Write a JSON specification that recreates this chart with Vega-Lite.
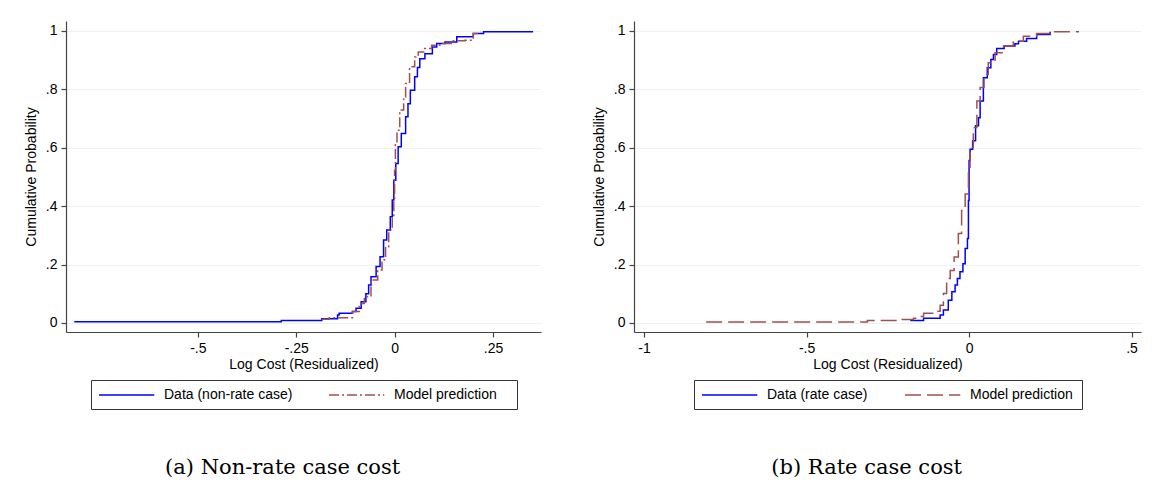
{
  "$schema": "https://vega.github.io/schema/vega-lite/v6.json",
  "padding": {"left": 24, "top": 21, "right": 5, "bottom": 5},
  "background": "white",
  "datasets": {
    "left": [
      {"x": -0.814, "p": 0.004, "series": "Data (non-rate case)"},
      {"x": -0.288, "p": 0.008, "series": "Data (non-rate case)"},
      {"x": -0.185, "p": 0.014, "series": "Data (non-rate case)"},
      {"x": -0.145, "p": 0.027, "series": "Data (non-rate case)"},
      {"x": -0.141, "p": 0.033, "series": "Data (non-rate case)"},
      {"x": -0.107, "p": 0.039, "series": "Data (non-rate case)"},
      {"x": -0.098, "p": 0.05, "series": "Data (non-rate case)"},
      {"x": -0.085, "p": 0.073, "series": "Data (non-rate case)"},
      {"x": -0.073, "p": 0.1, "series": "Data (non-rate case)"},
      {"x": -0.066, "p": 0.13, "series": "Data (non-rate case)"},
      {"x": -0.06, "p": 0.158, "series": "Data (non-rate case)"},
      {"x": -0.047, "p": 0.193, "series": "Data (non-rate case)"},
      {"x": -0.037, "p": 0.227, "series": "Data (non-rate case)"},
      {"x": -0.028, "p": 0.284, "series": "Data (non-rate case)"},
      {"x": -0.02, "p": 0.318, "series": "Data (non-rate case)"},
      {"x": -0.011, "p": 0.364, "series": "Data (non-rate case)"},
      {"x": -0.006, "p": 0.421, "series": "Data (non-rate case)"},
      {"x": -0.002, "p": 0.489, "series": "Data (non-rate case)"},
      {"x": 0.003, "p": 0.546, "series": "Data (non-rate case)"},
      {"x": 0.009, "p": 0.603, "series": "Data (non-rate case)"},
      {"x": 0.017, "p": 0.649, "series": "Data (non-rate case)"},
      {"x": 0.028, "p": 0.706, "series": "Data (non-rate case)"},
      {"x": 0.034, "p": 0.751, "series": "Data (non-rate case)"},
      {"x": 0.04, "p": 0.797, "series": "Data (non-rate case)"},
      {"x": 0.051, "p": 0.843, "series": "Data (non-rate case)"},
      {"x": 0.058, "p": 0.875, "series": "Data (non-rate case)"},
      {"x": 0.064, "p": 0.905, "series": "Data (non-rate case)"},
      {"x": 0.077, "p": 0.922, "series": "Data (non-rate case)"},
      {"x": 0.096, "p": 0.945, "series": "Data (non-rate case)"},
      {"x": 0.107, "p": 0.957, "series": "Data (non-rate case)"},
      {"x": 0.128, "p": 0.962, "series": "Data (non-rate case)"},
      {"x": 0.158, "p": 0.98, "series": "Data (non-rate case)"},
      {"x": 0.2, "p": 0.991, "series": "Data (non-rate case)"},
      {"x": 0.226, "p": 0.997, "series": "Data (non-rate case)"},
      {"x": 0.35, "p": 1.0, "series": "Data (non-rate case)"},
      {"x": -0.185, "p": 0.0125, "series": "Model prediction"},
      {"x": -0.166, "p": 0.018, "series": "Model prediction"},
      {"x": -0.115, "p": 0.018, "series": "Model prediction"},
      {"x": -0.107, "p": 0.039, "series": "Model prediction"},
      {"x": -0.09, "p": 0.067, "series": "Model prediction"},
      {"x": -0.077, "p": 0.09, "series": "Model prediction"},
      {"x": -0.06, "p": 0.147, "series": "Model prediction"},
      {"x": -0.043, "p": 0.181, "series": "Model prediction"},
      {"x": -0.032, "p": 0.216, "series": "Model prediction"},
      {"x": -0.023, "p": 0.261, "series": "Model prediction"},
      {"x": -0.015, "p": 0.318, "series": "Model prediction"},
      {"x": -0.006, "p": 0.364, "series": "Model prediction"},
      {"x": -0.002, "p": 0.421, "series": "Model prediction"},
      {"x": 0.0, "p": 0.523, "series": "Model prediction"},
      {"x": 0.002, "p": 0.615, "series": "Model prediction"},
      {"x": 0.006, "p": 0.66, "series": "Model prediction"},
      {"x": 0.013, "p": 0.729, "series": "Model prediction"},
      {"x": 0.023, "p": 0.774, "series": "Model prediction"},
      {"x": 0.028, "p": 0.82, "series": "Model prediction"},
      {"x": 0.038, "p": 0.877, "series": "Model prediction"},
      {"x": 0.051, "p": 0.911, "series": "Model prediction"},
      {"x": 0.06, "p": 0.928, "series": "Model prediction"},
      {"x": 0.074, "p": 0.94, "series": "Model prediction"},
      {"x": 0.094, "p": 0.951, "series": "Model prediction"},
      {"x": 0.115, "p": 0.957, "series": "Model prediction"},
      {"x": 0.149, "p": 0.966, "series": "Model prediction"},
      {"x": 0.179, "p": 0.968, "series": "Model prediction"},
      {"x": 0.2, "p": 0.991, "series": "Model prediction"},
      {"x": 0.213, "p": 1.0, "series": "Model prediction"}
    ],
    "right": [
      {"x": -0.181, "p": 0.008, "series": "Data (rate case)"},
      {"x": -0.14, "p": 0.016, "series": "Data (rate case)"},
      {"x": -0.089, "p": 0.027, "series": "Data (rate case)"},
      {"x": -0.079, "p": 0.044, "series": "Data (rate case)"},
      {"x": -0.064, "p": 0.078, "series": "Data (rate case)"},
      {"x": -0.053, "p": 0.107, "series": "Data (rate case)"},
      {"x": -0.043, "p": 0.13, "series": "Data (rate case)"},
      {"x": -0.036, "p": 0.152, "series": "Data (rate case)"},
      {"x": -0.028, "p": 0.175, "series": "Data (rate case)"},
      {"x": -0.019, "p": 0.203, "series": "Data (rate case)"},
      {"x": -0.012, "p": 0.255, "series": "Data (rate case)"},
      {"x": -0.005, "p": 0.289, "series": "Data (rate case)"},
      {"x": -0.002, "p": 0.419, "series": "Data (rate case)"},
      {"x": 0.0, "p": 0.556, "series": "Data (rate case)"},
      {"x": 0.003, "p": 0.595, "series": "Data (rate case)"},
      {"x": 0.011, "p": 0.624, "series": "Data (rate case)"},
      {"x": 0.02, "p": 0.675, "series": "Data (rate case)"},
      {"x": 0.029, "p": 0.703, "series": "Data (rate case)"},
      {"x": 0.034, "p": 0.76, "series": "Data (rate case)"},
      {"x": 0.044, "p": 0.84, "series": "Data (rate case)"},
      {"x": 0.056, "p": 0.874, "series": "Data (rate case)"},
      {"x": 0.067, "p": 0.902, "series": "Data (rate case)"},
      {"x": 0.075, "p": 0.919, "series": "Data (rate case)"},
      {"x": 0.085, "p": 0.94, "series": "Data (rate case)"},
      {"x": 0.108, "p": 0.948, "series": "Data (rate case)"},
      {"x": 0.141, "p": 0.956, "series": "Data (rate case)"},
      {"x": 0.152, "p": 0.965, "series": "Data (rate case)"},
      {"x": 0.177, "p": 0.974, "series": "Data (rate case)"},
      {"x": 0.208, "p": 0.988, "series": "Data (rate case)"},
      {"x": 0.249, "p": 0.997, "series": "Data (rate case)"},
      {"x": -0.809, "p": 0.003, "series": "Model prediction"},
      {"x": -0.313, "p": 0.008, "series": "Model prediction"},
      {"x": -0.21, "p": 0.012, "series": "Model prediction"},
      {"x": -0.171, "p": 0.016, "series": "Model prediction"},
      {"x": -0.16, "p": 0.022, "series": "Model prediction"},
      {"x": -0.14, "p": 0.033, "series": "Model prediction"},
      {"x": -0.099, "p": 0.04, "series": "Model prediction"},
      {"x": -0.089, "p": 0.061, "series": "Model prediction"},
      {"x": -0.079, "p": 0.101, "series": "Model prediction"},
      {"x": -0.069, "p": 0.152, "series": "Model prediction"},
      {"x": -0.058, "p": 0.18, "series": "Model prediction"},
      {"x": -0.046, "p": 0.226, "series": "Model prediction"},
      {"x": -0.033, "p": 0.306, "series": "Model prediction"},
      {"x": -0.023, "p": 0.385, "series": "Model prediction"},
      {"x": -0.012, "p": 0.442, "series": "Model prediction"},
      {"x": -0.002, "p": 0.533, "series": "Model prediction"},
      {"x": 0.003, "p": 0.601, "series": "Model prediction"},
      {"x": 0.013, "p": 0.669, "series": "Model prediction"},
      {"x": 0.024, "p": 0.76, "series": "Model prediction"},
      {"x": 0.034, "p": 0.806, "series": "Model prediction"},
      {"x": 0.046, "p": 0.851, "series": "Model prediction"},
      {"x": 0.059, "p": 0.891, "series": "Model prediction"},
      {"x": 0.08, "p": 0.925, "series": "Model prediction"},
      {"x": 0.106, "p": 0.948, "series": "Model prediction"},
      {"x": 0.136, "p": 0.965, "series": "Model prediction"},
      {"x": 0.167, "p": 0.982, "series": "Model prediction"},
      {"x": 0.208, "p": 0.991, "series": "Model prediction"},
      {"x": 0.249, "p": 0.997, "series": "Model prediction"},
      {"x": 0.336, "p": 1.0, "series": "Model prediction"}
    ]
  },
  "spacing": 51,
  "hconcat": [
    {
      "width": 475,
      "height": 311,
      "data": {"name": "left"},
      "title": {"text": "(a) Non-rate case cost"},
      "mark": {"type": "line", "interpolate": "step-after", "strokeWidth": 1.5},
      "encoding": {
        "x": {"field": "x", "type": "quantitative",
          "scale": {"domain": [-0.835, 0.372], "nice": false, "zero": false},
          "axis": {"title": "Log Cost (Residualized)", "values": [-0.5, -0.25, 0, 0.25], "labelExpr": "replace(toString(datum.value), '0.', '.')", "grid": false}},
        "y": {"field": "p", "type": "quantitative",
          "scale": {"domain": [-0.031, 1.034], "nice": false, "zero": false},
          "axis": {"title": "Cumulative Probability", "values": [0, 0.2, 0.4, 0.6, 0.8, 1], "labelExpr": "replace(toString(datum.value), '0.', '.')", "grid": true}},
        "color": {"field": "series", "type": "nominal",
          "scale": {"domain": ["Data (non-rate case)", "Model prediction"], "range": ["#0000ff", "#a05050"]},
          "legend": {"title": "\u00a0", "titleOrient": "right", "titlePadding": 13, "columnPadding": 33}},
        "strokeDash": {"field": "series", "type": "nominal",
          "scale": {"domain": ["Data (non-rate case)", "Model prediction"], "range": [[1, 0], [10, 3, 2, 3]]},
          "legend": {"title": "\u00a0", "titleOrient": "right", "titlePadding": 13, "columnPadding": 33}}
      }
    },
    {
      "width": 507,
      "height": 311,
      "data": {"name": "right"},
      "title": {"text": "(b) Rate case cost"},
      "mark": {"type": "line", "interpolate": "step-after", "strokeWidth": 1.5},
      "encoding": {
        "x": {"field": "x", "type": "quantitative",
          "scale": {"domain": [-1.031, 0.529], "nice": false, "zero": false},
          "axis": {"title": "Log Cost (Residualized)", "values": [-1, -0.5, 0, 0.5], "labelExpr": "replace(toString(datum.value), '0.', '.')", "grid": false}},
        "y": {"field": "p", "type": "quantitative",
          "scale": {"domain": [-0.031, 1.034], "nice": false, "zero": false},
          "axis": {"title": "Cumulative Probability", "values": [0, 0.2, 0.4, 0.6, 0.8, 1], "labelExpr": "replace(toString(datum.value), '0.', '.')", "grid": true}},
        "color": {"field": "series", "type": "nominal",
          "scale": {"domain": ["Data (rate case)", "Model prediction"], "range": ["#0000ff", "#a05050"]},
          "legend": {"title": "\u00a0", "titleOrient": "right", "titlePadding": 2, "columnPadding": 34}},
        "strokeDash": {"field": "series", "type": "nominal",
          "scale": {"domain": ["Data (rate case)", "Model prediction"], "range": [[1, 0], [16, 6]]},
          "legend": {"title": "\u00a0", "titleOrient": "right", "titlePadding": 2, "columnPadding": 34}}
      }
    }
  ],
  "resolve": {"scale": {"color": "independent", "strokeDash": "independent", "x": "independent", "y": "independent"}, "legend": {"color": "independent", "strokeDash": "independent"}},
  "config": {
    "view": {"stroke": null},
    "font": "Liberation Sans",
    "axis": {
      "labelFont": "Liberation Sans", "labelFontSize": 14, "labelColor": "#000",
      "titleFont": "Liberation Sans", "titleFontSize": 14, "titleFontWeight": "normal", "titleColor": "#000",
      "domainColor": "#444", "domainWidth": 1.2, "tickColor": "#444", "tickSize": 5, "tickWidth": 1.2,
      "labelPadding": 4, "gridColor": "#eaf2f3", "gridWidth": 1.2
    },
    "axisY": {"labelAngle": 0, "titlePadding": 7},
    "axisX": {"titlePadding": 2},
    "legend": {
      "orient": "bottom", "direction": "horizontal", "offset": 9,
      "layout": {"bottom": {"anchor": "middle"}},
      "symbolType": "M-1,0H6.9", "symbolSize": 196, "symbolStrokeWidth": 1.5,
      "labelFont": "Liberation Sans", "labelFontSize": 14, "labelColor": "#000",
      "titleFont": "Liberation Sans", "titleFontSize": 14,
      "labelOffset": 50,
      "strokeColor": "#333", "padding": 7
    },
    "title": {
      "font": "DejaVu Serif", "fontSize": 21, "fontWeight": "normal", "color": "#000",
      "orient": "bottom", "frame": "bounds", "anchor": "middle", "offset": 47
    }
  }
}
